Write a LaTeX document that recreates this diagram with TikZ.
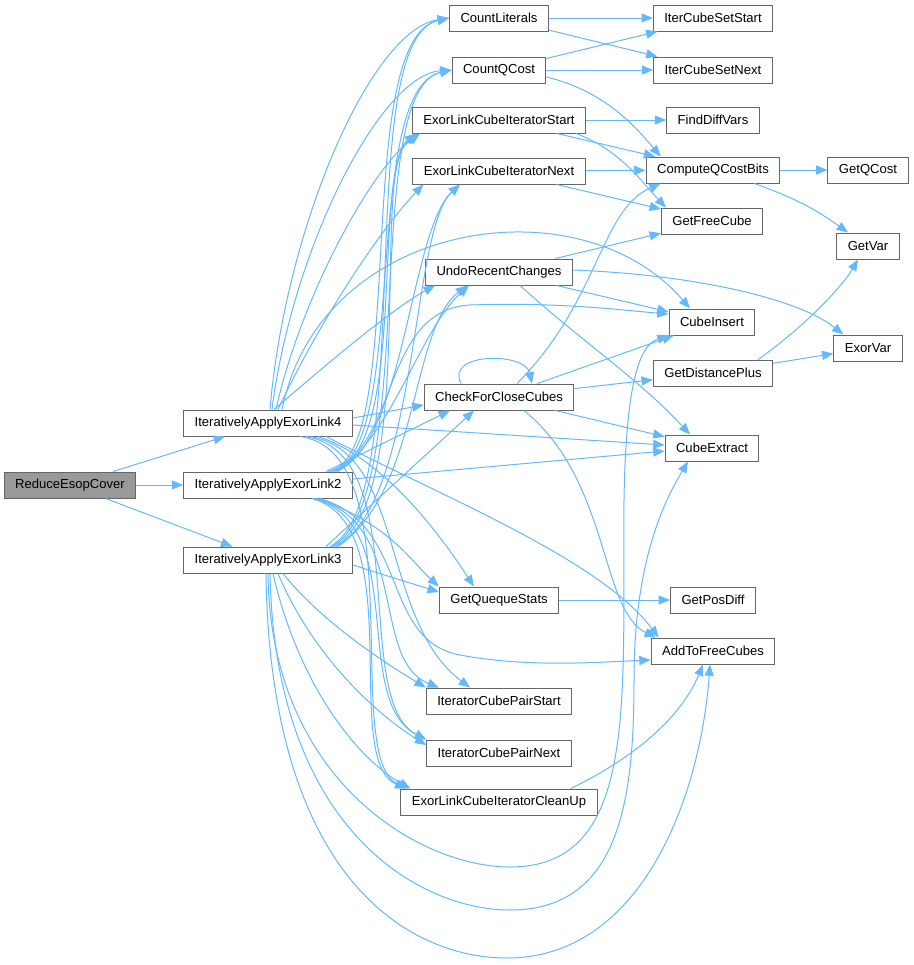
\documentclass[tikz,border=0pt]{standalone}
\usepackage{fontspec}
\setmainfont{Liberation Sans}
\usepackage{tikz}
\usetikzlibrary{arrows.meta, calc}
\definecolor{edgeblue}{HTML}{63B8FF}
\definecolor{boxline}{HTML}{666666}
\definecolor{rootfill}{HTML}{999999}

\begin{document}
\begin{tikzpicture}[
    x=0.75pt, y=-0.75pt,
    fn/.style={rectangle, draw=boxline, fill=white, line width=0.75pt, minimum height=19.5pt, inner xsep=8.25pt, inner ysep=0pt, font=\fontsize{9.8}{11}\selectfont},
    root/.style={fn, fill=rootfill},
    arrow/.style={draw=edgeblue, line width=0.75pt, -{Triangle[length=8.5pt,width=6.8pt]}}
]
\useasboundingbox (0,0) rectangle (914,965);

% Nodes
\node (reduce) [root] at (70,485) {ReduceEsopCover};
\node (ial4) [fn] at (268,423) {IterativelyApplyExorLink4};
\node (ial2) [fn] at (268,485) {IterativelyApplyExorLink2};
\node (ial3) [fn] at (268,560) {IterativelyApplyExorLink3};

\node (countlit) [fn] at (499,18) {CountLiterals};
\node (countq) [fn] at (499,70) {CountQCost};
\node (elstart) [fn] at (499,120) {ExorLinkCubeIteratorStart};
\node (elnext) [fn] at (499,171) {ExorLinkCubeIteratorNext};
\node (undo) [fn] at (499,272) {UndoRecentChanges};
\node (check) [fn] at (499,397) {CheckForCloseCubes};
\node (gqs) [fn] at (499,600) {GetQuequeStats};
\node (icpstart) [fn] at (499,701) {IteratorCubePairStart};
\node (icpnext) [fn] at (499,753) {IteratorCubePairNext};
\node (elclean) [fn] at (499,802) {ExorLinkCubeIteratorCleanUp};

\node (icsstart) [fn] at (713,18) {IterCubeSetStart};
\node (icsnext) [fn] at (713,70) {IterCubeSetNext};
\node (finddiff) [fn] at (713,120) {FindDiffVars};
\node (cqcb) [fn] at (713,170) {ComputeQCostBits};
\node (getfree) [fn] at (712,221) {GetFreeCube};
\node (cubeins) [fn] at (712,322) {CubeInsert};
\node (gdp) [fn] at (713,373) {GetDistancePlus};
\node (cubeext) [fn] at (712,448) {CubeExtract};
\node (getpos) [fn] at (713,600) {GetPosDiff};
\node (addfree) [fn] at (713,651) {AddToFreeCubes};

\node (getqcost) [fn] at (868,170) {GetQCost};
\node (getvar) [fn] at (868,246) {GetVar};
\node (exorvar) [fn] at (868,348) {ExorVar};

% Arrows from the root
\draw [arrow] (reduce) -- (ial4);
\draw [arrow] (reduce) -- (ial2);
\draw [arrow] (reduce) -- (ial3);

% IterativelyApplyExorLink4
\draw [arrow] ($(ial4.north)+(2,0)$) .. controls (285,230) and (370,30) .. (countlit.west);
\draw [arrow] ($(ial4.north)+(4,0)$) .. controls (292,250) and (380,75) .. (countq.west);
\draw [arrow] ($(ial4.north)+(8,0)$) .. controls (300,300) and (370,170) .. ($(elstart.south west)+(8,0)$);
\draw [arrow] ($(ial4.north)+(10,0)$) .. controls (320,320) and (380,230) .. ($(elnext.south west)+(11,0)$);
\draw [arrow] ($(ial4.north)+(6,0)$) .. controls (320,370) and (390,310) .. ($(undo.south west)+(10,0)$);
\draw [arrow] ($(ial4.north)+(14,0)$) .. controls (320,220) and (580,180) .. ($(cubeins.north)+(-22,0)$);
\draw [arrow] ($(ial4.east)+(0,-5)$) -- ($(check.west)+(0,8)$);
\draw [arrow] ($(ial4.east)+(0,2)$) -- ($(cubeext.west)+(0,-3)$);
\draw [arrow] ($(ial4.south)+(50,0)$) .. controls (390,460) and (450,550) .. ($(gqs.north)+(-25,0)$);
\draw [arrow] ($(ial4.south)+(58,0)$) .. controls (450,500) and (600,560) .. ($(addfree.north west)+(8,0)$);
\draw [arrow] ($(ial4.south)+(42,0)$) .. controls (405,452) and (380,620) .. ($(icpstart.north)+(-29,0)$);
\draw [arrow] ($(ial4.south)+(37,0)$) .. controls (415,452) and (350,700) .. (icpnext.north west);
\draw [arrow] ($(ial4.south)+(32,0)$) .. controls (415,452) and (340,760) .. ($(elclean.north west)+(8,0)$);

% IterativelyApplyExorLink2
\draw [arrow] ($(ial2.north)+(62,0)$) .. controls (410,450) and (350,40) .. (countlit.west);
\draw [arrow] ($(ial2.north)+(64,0)$) .. controls (410,450) and (360,90) .. (countq.west);
\draw [arrow] ($(ial2.north)+(66,0)$) .. controls (410,445) and (370,170) .. ($(elstart.south west)+(6,0)$);
\draw [arrow] ($(ial2.north)+(68,0)$) .. controls (405,445) and (410,230) .. ($(elnext.south)+(-39,0)$);
\draw [arrow] ($(ial2.north)+(70,0)$) .. controls (395,430) and (420,330) .. ($(undo.south)+(-30,0)$);
\draw [arrow] ($(ial2.north)+(60,0)$) .. controls (400,450) and (380,310) .. (470,305) .. controls (560,302) and (620,310) .. ($(cubeins.west)+(0,-8)$);
\draw [arrow] ($(ial2.north)+(58,0)$) -- ($(check.south)+(-49,0)$);
\draw [arrow] ($(ial2.east)+(0,-6)$) -- ($(cubeext.west)+(0,3)$);
\draw [arrow] ($(ial2.south)+(50,0)$) .. controls (390,525) and (410,560) .. (gqs.north west);
\draw [arrow] ($(ial2.south)+(52,0)$) .. controls (410,525) and (380,640) .. (460,655) .. controls (530,668) and (600,662) .. ($(addfree.west)+(0,9)$);
\draw [arrow] ($(ial2.south)+(48,0)$) .. controls (410,525) and (370,660) .. ($(icpstart.north west)+(13,0)$);
\draw [arrow] ($(ial2.south)+(46,0)$) .. controls (410,525) and (350,700) .. (icpnext.north west);
\draw [arrow] ($(ial2.south)+(44,0)$) .. controls (410,525) and (340,760) .. ($(elclean.north west)+(6,0)$);

% IterativelyApplyExorLink3
\draw [arrow] ($(ial3.north)+(62,0)$) .. controls (420,500) and (350,40) .. (countlit.west);
\draw [arrow] ($(ial3.north)+(64,0)$) .. controls (420,500) and (360,90) .. (countq.west);
\draw [arrow] ($(ial3.north)+(66,0)$) .. controls (420,500) and (370,170) .. ($(elstart.south west)+(4,0)$);
\draw [arrow] ($(ial3.north)+(68,0)$) .. controls (420,500) and (410,230) .. ($(elnext.south)+(-39,0)$);
\draw [arrow] ($(ial3.north)+(70,0)$) .. controls (420,490) and (410,330) .. ($(undo.south)+(-32,0)$);
\draw [arrow] ($(ial3.north)+(58,0)$) -- ($(check.south)+(-25,0)$);
\draw [arrow] ($(ial3.east)+(0,5)$) -- ($(gqs.west)+(0,-8)$);
\draw [arrow] ($(ial3.south)+(15,0)$) .. controls (320,620) and (380,660) .. (icpstart.north west);
\draw [arrow] ($(ial3.south)+(10,0)$) .. controls (310,650) and (370,710) .. ($(icpnext.west)+(0,-8)$);
\draw [arrow] ($(ial3.south)+(5,0)$) .. controls (300,690) and (360,760) .. ($(elclean.north west)+(10,0)$);
\draw [arrow] (ial3.south) .. controls (270,780) and (420,867) .. (510,867) .. controls (640,867) and (622,700) .. (624,500) .. controls (626,380) and (640,345) .. (cubeins.south west);
\draw [arrow] ($(ial3.south)+(2,0)$) .. controls (275,830) and (420,910) .. (510,910) .. controls (620,910) and (634,800) .. (634,680) .. controls (634,560) and (665,500) .. ($(cubeext.south)+(-24,0)$);
\draw [arrow] ($(ial3.south)+(-2,0)$) .. controls (270,880) and (410,958) .. (507,958) .. controls (640,958) and (700,800) .. ($(addfree.south)+(-3,0)$);

% Middle column
\draw [arrow] (countlit) -- (icsstart);
\draw [arrow] (countlit) -- (icsnext);
\draw [arrow] (countq) -- (icsstart);
\draw [arrow] (countq) -- (icsnext);
\draw [arrow] ($(countq.east)+(0,7)$) .. controls (600,90) and (630,120) .. ($(cqcb.north west)+(15,0)$);
\draw [arrow] (elstart) -- (finddiff);
\draw [arrow] (elstart) -- (cqcb);
\draw [arrow] ($(elstart.south east)+(-10,0)$) .. controls (620,150) and (640,180) .. ($(getfree.north west)+(5,0)$);
\draw [arrow] (elnext) -- (cqcb);
\draw [arrow] (elnext) -- (getfree);
\draw [arrow] (undo) -- (getfree);
\draw [arrow] (undo) -- (cubeins);
\draw [arrow] ($(undo.east)+(0,-2)$) .. controls (700,275) and (800,300) .. ($(exorvar.north west)+(10,0)$);
\draw [arrow] ($(undo.south)+(21,0)$) .. controls (580,340) and (640,380) .. ($(cubeext.north)+(-22,0)$);
\draw [arrow] ($(check.north)+(-38,0)$) .. controls (445,352) and (525,352) .. ($(check.north)+(33,0)$);
\draw [arrow] ($(check.north)+(18,0)$) .. controls (600,300) and (600,210) .. ($(cqcb.south west)+(15,0)$);
\draw [arrow] (check) -- (cubeins);
\draw [arrow] (check) -- (gdp);
\draw [arrow] (check) -- (cubeext);
\draw [arrow] ($(check.south)+(25,0)$) .. controls (610,480) and (600,610) .. ($(addfree.north west)+(5,0)$);
\draw [arrow] (gqs) -- (getpos);
\draw [arrow] ($(elclean.north east)+(-27,0)$) .. controls (630,760) and (680,720) .. ($(addfree.south)+(-10,0)$);

% Right column
\draw [arrow] (cqcb) -- (getqcost);
\draw [arrow] (cqcb) to[bend left=8] (getvar);
\draw [arrow] ($(gdp.north east)+(-15,0)$) .. controls (800,330) and (840,290) .. ($(getvar.south)+(-10,0)$);
\draw [arrow] (gdp) -- (exorvar);

\end{tikzpicture}
\end{document}
